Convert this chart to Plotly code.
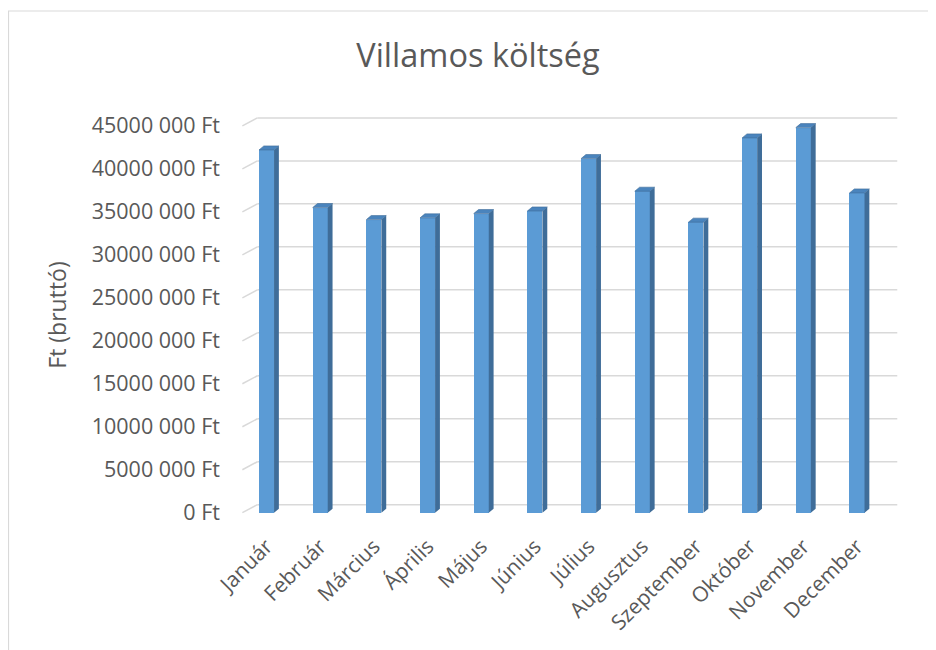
import plotly.graph_objects as go

months = ["Január", "Február", "Március", "Április", "Május", "Június",
          "Július", "Augusztus", "Szeptember", "Október", "November", "December"]
costs = [42.2e6, 35.5e6, 34.1e6, 34.3e6, 34.8e6, 35.1e6,
         41.2e6, 37.4e6, 33.8e6, 43.6e6, 44.8e6, 37.2e6]
y_tick_values = [0, 5e6, 10e6, 15e6, 20e6, 25e6, 30e6, 35e6, 40e6, 45e6]
y_tick_labels = ["0 Ft", "5000 000 Ft", "10000 000 Ft", "15000 000 Ft", "20000 000 Ft",
                 "25000 000 Ft", "30000 000 Ft", "35000 000 Ft", "40000 000 Ft", "45000 000 Ft"]

FRONT = "#5B9BD5"
SIDE = "#3F6D99"
CAP = "#4A84BD"
GRID = "#D9D9D9"
TXT = "#595959"
FONT = "Open Sans"

# page offset (browser body margin)
OFF = 8

# geometry of the pseudo-3D look (in axis units)
half_w = 0.14
bar_dx, bar_dy = 0.09, 0.47e6
wall_dx, wall_dy = 0.28, 0.93e6
x_left_front = -0.45
x_right_back = 11.75

xs = list(range(len(months)))

fig = go.Figure()

# front faces
fig.add_trace(go.Bar(x=xs, y=costs, width=2 * half_w, marker=dict(color=FRONT, line=dict(width=0)),
                     hoverinfo="skip", showlegend=False))

# side faces
sx, sy = [], []
for x, v in zip(xs, costs):
    sx += [x + half_w, x + half_w, x + half_w + bar_dx, x + half_w + bar_dx, x + half_w, None]
    sy += [0, v, v + bar_dy, bar_dy, 0, None]
fig.add_trace(go.Scatter(x=sx, y=sy, mode="lines", fill="toself", fillcolor=SIDE,
                         line=dict(width=0, color=SIDE), hoverinfo="skip", showlegend=False))

# caps
cx, cy = [], []
for x, v in zip(xs, costs):
    cx += [x - half_w, x + half_w, x + half_w + bar_dx, x - half_w + bar_dx, x - half_w, None]
    cy += [v, v, v + bar_dy, v + bar_dy, v, None]
fig.add_trace(go.Scatter(x=cx, y=cy, mode="lines", fill="toself", fillcolor=CAP,
                         line=dict(width=0.6, color="#3F6D99"), hoverinfo="skip", showlegend=False))

# back-wall gridlines with slanted side-wall segments
shapes = []
for t in y_tick_values:
    shapes.append(dict(type="line", xref="x", yref="y", layer="below",
                       x0=x_left_front + wall_dx, x1=x_right_back, y0=t + wall_dy, y1=t + wall_dy,
                       line=dict(color=GRID, width=1.5)))
    shapes.append(dict(type="line", xref="x", yref="y", layer="below",
                       x0=x_left_front, x1=x_left_front + wall_dx, y0=t, y1=t + wall_dy,
                       line=dict(color=GRID, width=1.5)))
# chart border
shapes.append(dict(type="rect", xref="paper", yref="paper", layer="below",
                   x0=(8.5 - 237) / 671, x1=(960 - 237) / 671,
                   y0=(517 - 680) / 404, y1=(517 - 11) / 404,
                   line=dict(color=GRID, width=1.2)))

fig.update_layout(
    width=936, height=650,
    margin=dict(l=237 - OFF, r=28 + OFF, t=113 - OFF, b=133 + OFF),
    paper_bgcolor="white", plot_bgcolor="white",
    font=dict(family=FONT, color=TXT, size=20),
    title=dict(text="Villamos költség", x=(478 - OFF) / 936, xref="container", xanchor="center",
               y=1 - (56 - OFF) / 650, yref="container", yanchor="middle",
               font=dict(family=FONT, size=32.5, color=TXT)),
    shapes=shapes,
    xaxis=dict(range=[-0.55, 11.95], tickmode="array", tickvals=xs, ticktext=months,
               tickangle=-45, showgrid=False, zeroline=False, showline=False,
               ticks="", ticklabelstandoff=12, tickfont=dict(size=21, color=TXT)),
    yaxis=dict(range=[-0.5e6, 46.5e6], tickmode="array", tickvals=y_tick_values,
               ticktext=y_tick_labels, showgrid=False, zeroline=False, showline=False,
               ticks="", ticklabelstandoff=16, tickfont=dict(size=21.5, color=TXT),
               title=dict(text="Ft (bruttó)", standoff=18, font=dict(size=23, color=TXT))),
    bargap=0,
)

fig.write_html("out.html")
